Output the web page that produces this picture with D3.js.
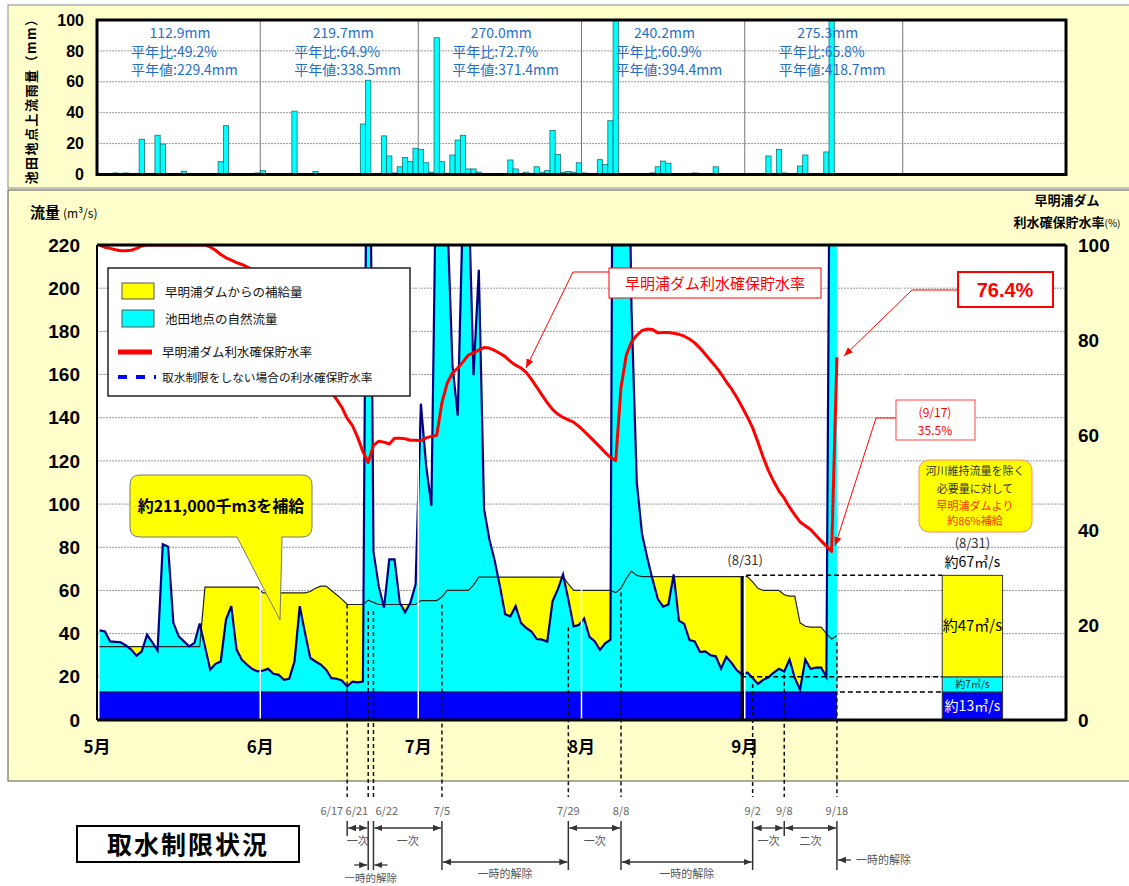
<!DOCTYPE html>
<html>
<head>
<meta charset="utf-8">
<script src="https://cdn.jsdelivr.net/npm/d3@7"></script>
<style>
  body { margin: 0; background: #fff; }
  svg { display: block; font-family: "Liberation Sans Narrow", "Noto Sans CJK JP", sans-serif; }
</style>
</head>
<body>
<script>
// ---- data ----
const months = ["5月", "6月", "7月", "8月", "9月"];
const rainTotals = ["112.9mm", "219.7mm", "270.0mm", "240.2mm", "275.3mm"];
const rainRatio = ["平年比:49.2%", "平年比:64.9%", "平年比:72.7%", "平年比:60.9%", "平年比:65.8%"];
const rainNormal = ["平年値:229.4mm", "平年値:338.5mm", "平年値:371.4mm", "平年値:394.4mm", "平年値:418.7mm"];

// daily rain upstream of Ikeda (mm)
const rainMay = [0,0,0,1.0,0,1.0,0,0,22.8,0,0,25.4,19.7,0,0,0,2.1,0,0,0,0,0,0,8.3,31.6,0,0,0,0,0,1.0];
const rainJun = [2.5,0.5,0,0,0,0,41,0.5,0,0,2,0,0,0,0,0,0,0,0,32.7,61,0,0,25,12,1,5,11,8.5,17];
const rainJul = [16.3,7.6,1.5,88.5,8.3,0.7,12.6,22.3,25.4,3.6,3.6,1.5,0,0,0.5,0,0,9.4,3.6,0,1.5,0,5,1.5,2.5,28.5,13,1.5,2,1.5,7.6];
const rainAug = [1,0,0,9.6,6.4,34.8,159,0.3,0.3,0.3,0,0,0,1,5,8.7,7.3,0,0,0,0.5,1,0,0,0,5,0,0,0,0,0];
const rainSep = [0,0,0,0,12,0,16.3,1,0,0,5.5,12.6,0,0,0,14.6,212.8,0.5,0,0,0,0,0,0,0,0,0,0,0,0];

// daily flow from 5/1 to 9/18 (m3/s)
const naturalFlow = [
  41.5,41,36.4,36.2,36,34.5,32.6,29.8,31.8,39.5,
  36,32.2,81.4,80.3,45,38.8,36.4,34.1,35.7,44.7,
  34.1,23.3,26,27.1,46.5,52.7,32.6,27.9,25.6,23.6,
  22.5,22.9,23.7,21.4,20.9,18.6,19.1,27.1,52.7,40.3,
  28.7,27.1,25.6,23.3,19.4,19.1,18.3,15.5,17.8,17.4,
  17.8,390,78,62,52,74.4,74.4,54.3,49.9,54.3,
  62.8,146.5,117.8,99.2,277,310,235,164.3,141,240,
  250,159.7,208.5,97.7,83.7,74,62,49,48,52.7,
  45,42.6,41,37.5,37.2,36.3,55,60.5,67.4,55.8,
  43.4,44,47,38.5,36.5,32.5,35.5,37.2,650,600,
  350,190,110,86,75,65,56,52.5,53.5,67.4,
  46,44.5,37,36.4,31.5,31.8,30,29.5,23.8,29.3,
  26.4,23,21,22,19.4,16.7,18.6,19.8,22,23.7,
  22.5,28,19.5,14,28,23.6,24.3,24.3,20,420,
  380
];
const supplyFlow = [
  34,34,34,34,34,34,34,34,34,34,
  34,34,34,34,34,34,34,34,34,34,
  61.5,61.5,61.5,61.5,61.5,61.5,61.5,61.5,61.5,61.5,
  61.5,58.9,58.9,58.9,58.9,58.9,58.9,58.9,58.9,58.9,
  59.5,61,62,62,60,58,56,53.5,53.5,53.5,
  53.5,55.5,54.5,53.5,53.5,53.5,53.5,53.5,53.5,53.5,
  53.5,55.3,55.3,55.3,55.3,57,60,60,60,60,
  60,62.5,66.2,66.2,66.2,66.2,66.2,66.2,66.2,66.2,
  66.2,66.2,66.2,66.2,66.2,66.2,66.2,66.2,66.2,63,
  60,60,60,60,60,60,60,60,59,61,
  65.5,69,67,66.4,66.4,66.4,66.4,66.4,66.4,66.4,
  66.4,66.4,66.4,66.4,66.4,66.4,66.4,66.4,66.4,66.4,
  66.4,66.4,66.4,66.4,64,61,60,60,60,60,
  58,57.4,57.4,45,43.4,43,43,43,40,37.5,
  39
];
// 早明浦ダム 利水確保貯水率 (%)
const storageRate = [
  100,99.5,99.3,99,98.8,98.8,98.9,99.3,99.8,100,
  100,100,100,100,100,100,100,100,100,100,
  100,99.6,98.9,98,97.3,96.8,96.3,95.9,95.4,94.8,
  94,93,91.8,90.5,89,87.5,86,84.4,82.6,80.5,
  78.3,76,73.5,71,69,67.5,65.8,63.5,62,59.5,
  56.5,54.2,57.8,58.7,58.5,58.1,59.3,59.3,59.2,58.9,
  58.9,58.8,59.4,59.7,59.9,66.8,70.9,73.1,74.1,75.4,
  76.8,77.3,77.9,78.4,78.3,77.8,77.2,76.5,75.5,74.7,
  74.1,73.2,71.7,70.1,68.4,66.8,65.4,64.4,63.7,63.2,
  62.7,61.8,60.8,59.7,58.6,57.5,56.3,55.3,54.6,70,
  76.8,79.6,81,82,82.3,82.2,81.5,81.6,81.6,81.4,
  81.2,80.8,80.2,79.4,78.3,77,75.7,74.4,72.9,71.2,
  69.7,67.9,65.9,63.8,61.5,58.5,55.3,52.5,50.2,48.2,
  46.7,44.8,43.2,41.7,40.9,40.1,38.9,37.7,36.6,35.5,
  76.4
];
const maintFlow = 13;   // 河川維持流量

// 8/31 breakdown bar
const barValues = [13, 7, 47];
const barLabels = ["約13㎥/s", "約7㎥/s", "約47㎥/s"];
const barColors = ["#0000FF", "#00FFFF", "#FFFF00"];

// restriction timeline
const restrictDates = ["6/17", "6/21", "6/22", "7/5", "7/29", "8/8", "9/2", "9/8", "9/18"];
const restrictTop = [53.5, 50.5, 50.5, 53.5, 43, 59, 16.7, 21, 36];   // where the dashed guide starts (m3/s)
const restrictAnchor = ["end", "end", "start", "middle", "middle", "middle", "middle", "middle", "middle"];
const restrictLong = [false, true, true, true, true, true, true, false, true];
const periodFrom = ["6/17", "6/22", "7/29", "9/2", "9/8", "7/5", "8/8"];
const periodTo = ["6/21", "7/5", "8/8", "9/8", "9/18", "7/29", "9/2"];
const periodLabel = ["一次", "一次", "一次", "一次", "二次", "一時的解除", "一時的解除"];
const periodRow = [0, 0, 0, 0, 0, 1, 1];

// ---- setup ----
const W = 1129, H = 886;
const Y = 2008;
const start = new Date(Y, 4, 1);
const dayStart = i => d3.timeDay.offset(start, i);
const dayMid = i => d3.timeHour.offset(dayStart(i), 12);
const md = s => { const p = s.split("/"); return new Date(Y, +p[0] - 1, +p[1], 12); };

const svg = d3.select("body").append("svg").attr("width", W).attr("height", H);
const defs = svg.append("defs");

const x = d3.scaleTime().domain([start, new Date(Y, 10, 1)]).range([97, 1066]);
const monthStarts = months.map((m, i) => new Date(Y, 4 + i, 1));
const monthLines = d3.timeMonth.range(new Date(Y, 5, 1), new Date(Y, 10, 1));

function marker(id, color, size) {
  defs.append("marker").attr("id", id)
    .attr("viewBox", "0 0 10 10").attr("refX", 10).attr("refY", 5)
    .attr("markerWidth", size).attr("markerHeight", size)
    .attr("markerUnits", "userSpaceOnUse")
    .attr("orient", "auto-start-reverse")
    .append("path").attr("d", "M0,1 L10,5 L0,9 Z").attr("fill", color);
}
marker("arrGray", "#333", 8);
marker("arrRed", "#FF0000", 9);

// panels
svg.append("rect").attr("x", 8).attr("y", 5).attr("width", 1130).attr("height", 183)
  .attr("fill", "#FFFFCC").attr("stroke", "#8a8a8a");
svg.append("rect").attr("x", 8).attr("y", 190).attr("width", 1130).attr("height", 591)
  .attr("fill", "#FFFFCC").attr("stroke", "#555");

// ---- rain panel ----
const yR = d3.scaleLinear().domain([0, 100]).range([174.5, 20]);
svg.append("rect").attr("x", 97).attr("y", 20).attr("width", 969).attr("height", 154.5).attr("fill", "#fff");
defs.append("clipPath").attr("id", "rainClip").append("rect")
  .attr("x", 97).attr("y", 20).attr("width", 969).attr("height", 154.5);

svg.append("g").selectAll("line").data([20, 40, 60, 80]).join("line")
  .attr("x1", 97).attr("x2", 1066).attr("y1", d => yR(d)).attr("y2", d => yR(d))
  .attr("stroke", "#999").attr("stroke-dasharray", "2,1");
svg.append("g").selectAll("line").data(monthLines).join("line")
  .attr("x1", d => x(d)).attr("x2", d => x(d)).attr("y1", 20).attr("y2", 174.5)
  .attr("stroke", "#777");

const rain = [].concat(rainMay, rainJun, rainJul, rainAug, rainSep);
svg.append("g").attr("clip-path", "url(#rainClip)")
  .selectAll("rect").data(rain.map((v, i) => ({ v, i })).filter(d => d.v > 0)).join("rect")
  .attr("x", d => x(dayStart(d.i)))
  .attr("width", d => x(dayStart(d.i + 1)) - x(dayStart(d.i)))
  .attr("y", d => yR(d.v))
  .attr("height", d => yR(0) - yR(d.v))
  .attr("fill", "#00FFFF").attr("stroke", "#1d6f6f").attr("stroke-width", 0.8);

svg.append("rect").attr("x", 97).attr("y", 20).attr("width", 969).attr("height", 154.5)
  .attr("fill", "none").attr("stroke", "#000").attr("stroke-width", 3);

const rainAxis = svg.append("g").attr("transform", "translate(97,0)")
  .call(d3.axisLeft(yR).tickValues([0, 20, 40, 60, 80, 100]).tickSize(0).tickPadding(13));
rainAxis.select(".domain").remove();
rainAxis.selectAll("text").attr("font-size", 16).attr("font-weight", "bold")
  .attr("font-family", '"Liberation Sans Narrow", sans-serif').attr("fill", "#000");

svg.append("text").attr("transform", "translate(36,98) rotate(-90)")
  .attr("text-anchor", "middle").attr("font-size", 13).attr("font-weight", "bold")
  .attr("letter-spacing", 1.5).attr("font-family", '"Noto Sans CJK JP", sans-serif')
  .text("池田地点上流雨量（mm）");

const rainTxt = svg.append("g").attr("fill", "#1F6FC6").attr("font-size", 14);
monthStarts.forEach((d, i) => {
  rainTxt.append("text").attr("x", x(d) + 83).attr("y", 38).attr("text-anchor", "middle").text(rainTotals[i]);
  rainTxt.append("text").attr("x", x(d) + 34).attr("y", 57).text(rainRatio[i]);
  rainTxt.append("text").attr("x", x(d) + 34).attr("y", 75).text(rainNormal[i]);
});

// ---- flow panel ----
const yF = d3.scaleLinear().domain([0, 220]).range([720, 245]);
const yP = d3.scaleLinear().domain([0, 100]).range([720, 245]);

svg.append("rect").attr("x", 97).attr("y", 245).attr("width", 969).attr("height", 475).attr("fill", "#fff");
defs.append("clipPath").attr("id", "mainClip").append("rect")
  .attr("x", 97).attr("y", 245).attr("width", 969).attr("height", 475);

svg.append("g").selectAll("line").data(d3.range(20, 220, 20)).join("line")
  .attr("x1", 97).attr("x2", 1066).attr("y1", d => yF(d)).attr("y2", d => yF(d))
  .attr("stroke", "#999").attr("stroke-dasharray", "2,1");

const plot = svg.append("g").attr("clip-path", "url(#mainClip)");
const areaOf = () => d3.area().x((d, i) => x(dayMid(i))).y0(yF(0)).y1(d => yF(d));
const lineOf = d3.line().x((d, i) => x(dayMid(i))).y(d => yF(d));

plot.append("path").datum(supplyFlow).attr("d", areaOf()).attr("fill", "#FFFF00");
plot.append("path").datum(naturalFlow).attr("d", areaOf()).attr("fill", "#00FFFF");
const maint = naturalFlow.map(() => maintFlow);
plot.append("path").datum(maint).attr("d", areaOf()).attr("fill", "#0000FF");
plot.append("path").datum(maint).attr("d", lineOf).attr("fill", "none").attr("stroke", "#000").attr("stroke-width", 1);
plot.append("path").datum(supplyFlow).attr("d", lineOf).attr("fill", "none").attr("stroke", "#222").attr("stroke-width", 1.2);
plot.append("path").datum(naturalFlow).attr("d", lineOf).attr("fill", "none").attr("stroke", "#000080").attr("stroke-width", 2.2);

// white month lines over the areas
plot.append("g").selectAll("line").data(monthLines).join("line")
  .attr("x1", d => x(d)).attr("x2", d => x(d)).attr("y1", 243).attr("y2", 719)
  .attr("stroke", "#fff").attr("stroke-width", 1.5);

// 8/31 marker
const i831 = 122;
svg.append("line").attr("x1", x(dayMid(i831))).attr("x2", x(dayMid(i831)))
  .attr("y1", yF(supplyFlow[i831])).attr("y2", 720).attr("stroke", "#000").attr("stroke-width", 3);
svg.append("text").attr("x", x(dayMid(i831)) + 3).attr("y", 565).attr("text-anchor", "middle")
  .attr("font-size", 13).attr("fill", "#333").text("(8/31)");

// right breakdown bar
const bx0 = x(new Date(Y, 9, 8, 12)), bx1 = x(new Date(Y, 9, 19, 23));
const stack = d3.cumsum(barValues);
const bcx = (bx0 + bx1) / 2;

// dashed guides to the bar
const guides = [
  { v: stack[2], from: x(dayMid(i831)) + 4 },
  { v: stack[1], from: x(dayMid(i831)) - 1 },
  { v: stack[0], from: x(dayMid(140)) + 3 }
];
svg.append("g").selectAll("line").data(guides).join("line")
  .attr("x1", d => d.from).attr("x2", bx0).attr("y1", d => yF(d.v)).attr("y2", d => yF(d.v))
  .attr("stroke", "#000").attr("stroke-width", 1.5).attr("stroke-dasharray", "5,3");

svg.append("g").selectAll("rect").data(barValues).join("rect")
  .attr("x", bx0).attr("width", bx1 - bx0)
  .attr("y", (d, i) => yF(stack[i])).attr("height", d => yF(0) - yF(d))
  .attr("fill", (d, i) => barColors[i]).attr("stroke", "#333").attr("stroke-width", 1);
const blab = svg.append("g").attr("text-anchor", "middle");
blab.append("text").attr("x", bcx).attr("y", yF(stack[0] / 2) + 5).attr("font-size", 14).attr("fill", "#fff").text(barLabels[0]);
blab.append("text").attr("x", bcx).attr("y", yF(stack[0] + barValues[1] / 2) + 4).attr("font-size", 10).attr("fill", "#222").text(barLabels[1]);
blab.append("text").attr("x", bcx).attr("y", yF(stack[1] + barValues[2] / 2) + 5).attr("font-size", 15).attr("fill", "#000").text(barLabels[2]);
blab.append("text").attr("x", bcx).attr("y", 548).attr("font-size", 13).attr("fill", "#333").text("(8/31)");
blab.append("text").attr("x", bcx).attr("y", 567).attr("font-size", 14).attr("fill", "#000").text("約" + stack[2] + "㎥/s");

// storage rate line
plot.append("path").datum(storageRate)
  .attr("d", d3.line().x((d, i) => x(dayMid(i))).y(d => yP(d)))
  .attr("fill", "none").attr("stroke", "#FF0000").attr("stroke-width", 3).attr("stroke-linejoin", "round");

// frame
svg.append("line").attr("x1", 97).attr("x2", 1066).attr("y1", 245).attr("y2", 245).attr("stroke", "#000").attr("stroke-width", 3);
svg.append("line").attr("x1", 97).attr("x2", 1066).attr("y1", 720).attr("y2", 720).attr("stroke", "#000").attr("stroke-width", 3);
svg.append("line").attr("x1", 97).attr("x2", 97).attr("y1", 245).attr("y2", 720).attr("stroke", "#000").attr("stroke-width", 2);
svg.append("line").attr("x1", 1066).attr("x2", 1066).attr("y1", 245).attr("y2", 721).attr("stroke", "#000").attr("stroke-width", 3);

// axes
const axL = svg.append("g").attr("transform", "translate(97,0)")
  .call(d3.axisLeft(yF).tickValues(d3.range(0, 221, 20)).tickSize(0).tickPadding(17));
const axR = svg.append("g").attr("transform", "translate(1066,0)")
  .call(d3.axisRight(yP).tickValues(d3.range(0, 101, 20)).tickSize(0).tickPadding(12));
[axL, axR].forEach(a => {
  a.select(".domain").remove();
  a.selectAll("text").attr("font-size", 19).attr("font-weight", "bold")
    .attr("font-family", '"Liberation Sans Narrow", sans-serif').attr("fill", "#000");
});

const tL = svg.append("text").attr("x", 30).attr("y", 218).attr("font-family", '"Noto Sans CJK JP", sans-serif');
tL.append("tspan").attr("font-size", 15).attr("font-weight", "bold").text("流量");
tL.append("tspan").attr("font-size", 12).attr("dx", 3).text("(m³/s)");
svg.append("text").attr("x", 1067).attr("y", 205).attr("text-anchor", "middle")
  .attr("font-size", 13).attr("font-weight", "bold").attr("font-family", '"Noto Sans CJK JP", sans-serif').text("早明浦ダム");
const tR = svg.append("text").attr("x", 1067).attr("y", 227).attr("text-anchor", "middle")
  .attr("font-family", '"Noto Sans CJK JP", sans-serif');
tR.append("tspan").attr("font-size", 13).attr("font-weight", "bold").text("利水確保貯水率");
tR.append("tspan").attr("font-size", 10).text("(%)");

svg.append("g").selectAll("text").data(monthStarts).join("text")
  .attr("x", d => x(d)).attr("y", 753).attr("text-anchor", "middle")
  .attr("font-size", 17).attr("font-weight", "bold").text((d, i) => months[i]);

// legend
const lg = svg.append("g");
lg.append("rect").attr("x", 108).attr("y", 268).attr("width", 302).attr("height", 128)
  .attr("fill", "#fff").attr("stroke", "#222").attr("stroke-width", 1.5);
lg.append("rect").attr("x", 122).attr("y", 283).attr("width", 32).attr("height", 16).attr("fill", "#FFFF00").attr("stroke", "#555");
lg.append("rect").attr("x", 122).attr("y", 310).attr("width", 32).attr("height", 17).attr("fill", "#00FFFF").attr("stroke", "#555");
lg.append("line").attr("x1", 118).attr("x2", 152).attr("y1", 352).attr("y2", 352).attr("stroke", "#FF0000").attr("stroke-width", 5);
lg.append("line").attr("x1", 118).attr("x2", 156).attr("y1", 377).attr("y2", 377).attr("stroke", "#0000FF").attr("stroke-width", 4).attr("stroke-dasharray", "9,9");
const lgText = lg.append("g").attr("font-family", '"Noto Sans CJK JP", sans-serif').attr("fill", "#111");
lgText.append("text").attr("x", 165).attr("y", 297).attr("font-size", 12.5).text("早明浦ダムからの補給量");
lgText.append("text").attr("x", 165).attr("y", 324).attr("font-size", 12.5).text("池田地点の自然流量");
lgText.append("text").attr("x", 162).attr("y", 357).attr("font-size", 12.5).text("早明浦ダム利水確保貯水率");
lgText.append("text").attr("x", 162).attr("y", 382).attr("font-size", 11.7).text("取水制限をしない場合の利水確保貯水率");

// callout: 約211,000千m3を補給
svg.append("path")
  .attr("d", "M140,475 H302 Q312,475 312,485 V527 Q312,537 302,537 H282 L280,620 L237,537 H140 Q130,537 130,527 V485 Q130,475 140,475 Z")
  .attr("fill", "#FFFF00").attr("stroke", "#777").attr("stroke-width", 1);
svg.append("text").attr("x", 221).attr("y", 512).attr("text-anchor", "middle")
  .attr("font-size", 16).attr("font-weight", "bold").attr("font-family", '"Noto Sans CJK JP", sans-serif')
  .text("約211,000千m3を補給");

// red annotations
const red = svg.append("g").attr("font-family", '"Noto Sans CJK JP", sans-serif');
red.append("polyline").attr("points", "609,272 573,272 526,368").attr("fill", "none")
  .attr("stroke", "#FF0000").attr("stroke-width", 1).attr("marker-end", "url(#arrRed)");
red.append("rect").attr("x", 609).attr("y", 268).attr("width", 212).attr("height", 30)
  .attr("fill", "#fff").attr("stroke", "#FF0000").attr("stroke-width", 1);
red.append("text").attr("x", 715).attr("y", 289).attr("text-anchor", "middle")
  .attr("font-size", 15).attr("fill", "#FF0000").text("早明浦ダム利水確保貯水率");

red.append("polyline").attr("points", "958,290 912,290 844,356").attr("fill", "none")
  .attr("stroke", "#FF0000").attr("stroke-width", 1).attr("marker-end", "url(#arrRed)");
red.append("rect").attr("x", 958).attr("y", 272).attr("width", 95).attr("height", 35)
  .attr("fill", "#fff").attr("stroke", "#FF0000").attr("stroke-width", 2);
red.append("text").attr("x", 1005).attr("y", 297).attr("text-anchor", "middle")
  .attr("font-size", 20).attr("font-weight", "bold").attr("fill", "#FF0000")
  .attr("font-family", '"Liberation Sans", sans-serif').text(storageRate[140] + "%");

red.append("polyline").attr("points", "896,418 876,418 835,546").attr("fill", "none")
  .attr("stroke", "#FF0000").attr("stroke-width", 1).attr("marker-end", "url(#arrRed)");
red.append("rect").attr("x", 896).attr("y", 400).attr("width", 79).attr("height", 40)
  .attr("fill", "#fff").attr("stroke", "#FF4444").attr("stroke-width", 1);
red.append("text").attr("x", 935).attr("y", 417).attr("text-anchor", "middle")
  .attr("font-size", 12).attr("fill", "#FF0000").text("(9/17)");
red.append("text").attr("x", 935).attr("y", 435).attr("text-anchor", "middle")
  .attr("font-size", 12).attr("fill", "#FF0000").text(storageRate[139] + "%");

// note box
svg.append("rect").attr("x", 919).attr("y", 460).attr("width", 113).attr("height", 72).attr("rx", 10)
  .attr("fill", "#FFFF00").attr("stroke", "#FF8866").attr("stroke-width", 1);
const note = svg.append("g").attr("text-anchor", "middle").attr("font-size", 11)
  .attr("font-family", '"Noto Sans CJK JP", sans-serif');
note.append("text").attr("x", 975).attr("y", 475).attr("fill", "#333").text("河川維持流量を除く");
note.append("text").attr("x", 975).attr("y", 493).attr("fill", "#333").text("必要量に対して");
note.append("text").attr("x", 975).attr("y", 510).attr("fill", "#FF3300").text("早明浦ダムより");
note.append("text").attr("x", 975).attr("y", 525).attr("fill", "#FF3300").text("約86%補給");

// ---- restriction timeline ----
const rx = s => x(md(s));
const labelShift = [-4, 0, 2, 0, 0, 0, 0, 0, 0];
svg.append("g").selectAll("line").data(restrictDates).join("line")
  .attr("x1", d => rx(d)).attr("x2", d => rx(d))
  .attr("y1", (d, i) => yF(restrictTop[i])).attr("y2", 797)
  .attr("stroke", "#111").attr("stroke-width", 1.5).attr("stroke-dasharray", "4,3");
svg.append("g").selectAll("text").data(restrictDates).join("text")
  .attr("x", (d, i) => rx(d) + labelShift[i])
  .attr("y", 815).attr("text-anchor", (d, i) => restrictAnchor[i])
  .attr("font-size", 11).attr("fill", "#666").text(d => d);
svg.append("g").selectAll("line").data(restrictDates).join("line")
  .attr("x1", d => rx(d)).attr("x2", d => rx(d))
  .attr("y1", 821).attr("y2", (d, i) => restrictLong[i] ? 870 : 836)
  .attr("stroke", "#333").attr("stroke-width", 1.5);

const rowY = [828, 862], rowLabelY = [845, 878];
periodLabel.forEach((lab, i) => {
  const a = rx(periodFrom[i]), b = rx(periodTo[i]), r = periodRow[i];
  svg.append("line").attr("x1", a + 1).attr("x2", b - 1).attr("y1", rowY[r]).attr("y2", rowY[r])
    .attr("stroke", "#333").attr("stroke-width", 1.3)
    .attr("marker-start", "url(#arrGray)").attr("marker-end", "url(#arrGray)");
  svg.append("text").attr("x", (a + b) / 2).attr("y", rowLabelY[r]).attr("text-anchor", "middle")
    .attr("font-size", 11).attr("fill", "#555").attr("font-family", '"Noto Sans CJK JP", sans-serif').text(lab);
});
// short release between 6/21 and 6/22
svg.append("line").attr("x1", rx("6/21") - 14).attr("x2", rx("6/21") - 1).attr("y1", 865).attr("y2", 865)
  .attr("stroke", "#333").attr("stroke-width", 1.3).attr("marker-end", "url(#arrGray)");
svg.append("line").attr("x1", rx("6/22") + 14).attr("x2", rx("6/22") + 1).attr("y1", 865).attr("y2", 865)
  .attr("stroke", "#333").attr("stroke-width", 1.3).attr("marker-end", "url(#arrGray)");
svg.append("text").attr("x", (rx("6/21") + rx("6/22")) / 2).attr("y", 882).attr("text-anchor", "middle")
  .attr("font-size", 10.5).attr("fill", "#555").attr("font-family", '"Noto Sans CJK JP", sans-serif').text("一時的解除");
// release after 9/18
svg.append("line").attr("x1", rx("9/18") + 14).attr("x2", rx("9/18") + 1).attr("y1", 860).attr("y2", 860)
  .attr("stroke", "#333").attr("stroke-width", 1.3).attr("marker-end", "url(#arrGray)");
svg.append("text").attr("x", rx("9/18") + 19).attr("y", 864)
  .attr("font-size", 11).attr("fill", "#555").attr("font-family", '"Noto Sans CJK JP", sans-serif').text("一時的解除");

// title box
svg.append("rect").attr("x", 77).attr("y", 826).attr("width", 222).attr("height", 36)
  .attr("fill", "#fff").attr("stroke", "#000").attr("stroke-width", 2);
svg.append("text").attr("x", 188).attr("y", 854).attr("text-anchor", "middle")
  .attr("font-size", 25).attr("font-weight", "bold").attr("letter-spacing", 2)
  .attr("font-family", '"Noto Sans CJK JP", sans-serif').text("取水制限状況");
</script>
</body>
</html>
